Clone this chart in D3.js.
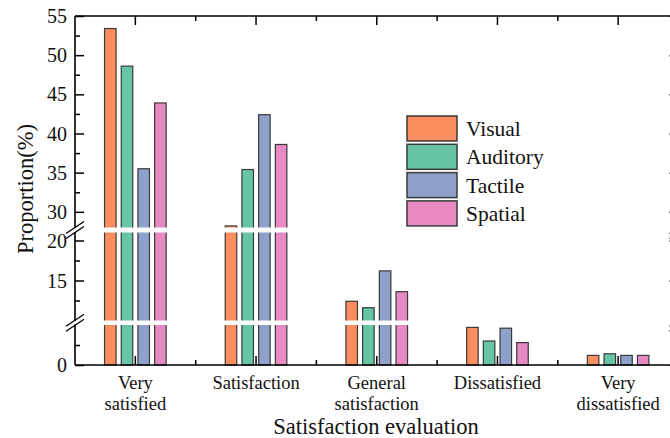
<!DOCTYPE html>
<html>
<head>
<meta charset="utf-8">
<script src="https://cdn.jsdelivr.net/npm/d3@7"></script>
<style>
html,body{margin:0;padding:0;background:#fff;}
svg{display:block;}
</style>
</head>
<body>
<svg id="chart" width="670" height="438" font-family="'Liberation Serif', 'Times New Roman', 'DejaVu Serif', serif"></svg>
<script>
// ---- data ----
const categories = ["Very satisfied","Satisfaction","General satisfaction","Dissatisfied","Very dissatisfied"];
const categoryLines = [["Very","satisfied"],["Satisfaction"],["General","satisfaction"],["Dissatisfied"],["Very","dissatisfied"]];
const seriesNames = ["Visual","Auditory","Tactile","Spatial"];
const visual   = [53.4, 28.2, 12.4, 4.7, 1.2];
const auditory = [48.6, 35.4, 11.6, 3.0, 1.4];
const tactile  = [35.5, 42.4, 16.2, 4.6, 1.2];
const spatial  = [43.9, 38.6, 13.6, 2.8, 1.2];
const majorTicks = [0, 15, 20, 30, 35, 40, 45, 50, 55];
const minorTicks = [2.5, 12.5, 17.5, 32.5, 37.5, 42.5, 47.5, 52.5];
const colors = ["#FC8D5E","#66C5A4","#8DA1CB","#E78AC3"];

const seriesValues = [visual, auditory, tactile, spatial];

const svg = d3.select("#chart");
const FONT = "'Liberation Serif', 'Times New Roman', 'DejaVu Serif', serif";
const pLeft = 75, pRight = 678.5, pTop = 16, pBottom = 365;

// broken y axis: piecewise linear scale with gaps
const y = d3.scaleLinear()
  .domain([0, 5, 10, 21, 28, 55])
  .range([365, 325, 320.5, 232.5, 227.5, 16]);
const gaps = [[320.5, 325], [227.5, 232.5]];

const x0 = d3.scaleBand().domain(categories).range([pLeft, pRight]).padding(0);
const x1 = d3.scaleBand().domain(seriesNames).range([-33.4, 33.4]).paddingInner(0.31).paddingOuter(0.155);

// bars
const data = [];
categories.forEach((c, i) => seriesNames.forEach((s, j) => data.push({c, s, v: seriesValues[j][i], j})));
svg.append("g").selectAll("rect").data(data).join("rect")
  .attr("x", d => x0(d.c) + x0.bandwidth()/2 + x1(d.s))
  .attr("width", x1.bandwidth())
  .attr("y", d => y(d.v))
  .attr("height", d => y(0) - y(d.v))
  .attr("fill", d => colors[d.j])
  .attr("stroke", "#3a3a3a")
  .attr("stroke-width", 1.2);

// break gaps over bars
svg.append("g").selectAll("rect").data(gaps).join("rect")
  .attr("x", pLeft + 1).attr("width", pRight - pLeft - 2)
  .attr("y", d => d[0]).attr("height", d => d[1] - d[0])
  .attr("fill", "#fff");

const axisG = svg.append("g").attr("stroke", "#000").attr("fill", "none");
// frame lines
axisG.append("line").attr("x1", pLeft).attr("x2", pRight).attr("y1", pBottom).attr("y2", pBottom).attr("stroke-width", 1.6);
axisG.append("line").attr("x1", pLeft).attr("x2", pRight).attr("y1", pTop).attr("y2", pTop).attr("stroke-width", 1.6);
[pLeft, pRight].forEach(xx => {
  axisG.append("line").attr("x1", xx).attr("x2", xx).attr("y1", pTop).attr("y2", pBottom).attr("stroke-width", 1.6);
});

// vertical axes with d3 axis (inward ticks)
const yAxisL = d3.axisRight(y).tickValues(majorTicks).tickSize(9).tickFormat("");
const yAxisLm = d3.axisRight(y).tickValues(minorTicks).tickSize(5).tickFormat("");
const yAxisR = d3.axisLeft(y).tickValues(majorTicks).tickSize(9).tickFormat("");
const yAxisRm = d3.axisLeft(y).tickValues(minorTicks).tickSize(5).tickFormat("");
[[yAxisL, pLeft],[yAxisLm, pLeft],[yAxisR, pRight],[yAxisRm, pRight]].forEach(([ax, xx]) => {
  const g = svg.append("g").attr("transform", `translate(${xx},0)`).call(ax);
  g.select(".domain").remove();
  g.selectAll("line").attr("stroke", "#000").attr("stroke-width", 1.5);
});

// tick labels
svg.append("g").selectAll("text").data(majorTicks).join("text")
  .attr("x", 67).attr("y", d => y(d)).attr("dy", "0.35em")
  .attr("font-family", FONT).attr("fill", "#111")
  .attr("text-anchor", "end").attr("font-size", 20).text(d => d);

// break marks on both vertical axes
[pLeft, pRight].forEach(xx => {
  gaps.forEach(g => {
    const mid = (g[0] + g[1]) / 2;
    svg.append("rect").attr("x", xx - 2).attr("width", 4).attr("y", g[0] + 0.5).attr("height", g[1] - g[0] - 1).attr("fill", "#fff");
    [-2.5, 2.5].forEach(off => {
      svg.append("line")
        .attr("x1", xx - 9).attr("y1", mid + off + 6)
        .attr("x2", xx + 9).attr("y2", mid + off - 6)
        .attr("stroke", "#000").attr("stroke-width", 1.3);
    });
  });
});

// bottom and top category ticks
const centers = categories.map(c => x0(c) + x0.bandwidth()/2);
const bounds = categories.slice(1).map(c => x0(c));
const tg = svg.append("g").attr("stroke", "#000").attr("stroke-width", 1.5);
centers.forEach(cx => {
  tg.append("line").attr("x1", cx).attr("x2", cx).attr("y1", pBottom).attr("y2", pBottom - 9);
  tg.append("line").attr("x1", cx).attr("x2", cx).attr("y1", pTop).attr("y2", pTop + 9);
});
bounds.forEach(bx => {
  tg.append("line").attr("x1", bx).attr("x2", bx).attr("y1", pBottom).attr("y2", pBottom - 5);
  tg.append("line").attr("x1", bx).attr("x2", bx).attr("y1", pTop).attr("y2", pTop + 5);
});

// category labels
categories.forEach((c, i) => {
  const t = svg.append("text").attr("x", centers[i]).attr("y", 389)
    .attr("font-family", FONT).attr("fill", "#111")
    .attr("text-anchor", "middle").attr("font-size", 18.5);
  categoryLines[i].forEach((ln, k) => {
    t.append("tspan").attr("x", centers[i]).attr("y", 389 + k * 20.5).text(ln);
  });
});

// axis titles
svg.append("text").attr("x", 376).attr("y", 434).attr("text-anchor", "middle")
  .attr("font-family", FONT).attr("fill", "#111")
  .attr("font-size", 22.5).text("Satisfaction evaluation");
svg.append("text").attr("transform", "translate(33,189) rotate(-90)").attr("text-anchor", "middle")
  .attr("font-family", FONT).attr("fill", "#111")
  .attr("font-size", 22.5).text("Proportion(%)");

// legend
const lg = svg.append("g").attr("transform", "translate(407,116)");
seriesNames.forEach((s, i) => {
  lg.append("rect").attr("x", 0).attr("y", i * 28.3).attr("width", 50).attr("height", 25)
    .attr("fill", colors[i]).attr("stroke", "#3a3a3a").attr("stroke-width", 1.5);
  lg.append("text").attr("x", 59).attr("y", i * 28.3 + 20)
    .attr("font-family", FONT).attr("fill", "#111")
    .attr("font-size", 21.5).text(s);
});
</script>
</body>
</html>
